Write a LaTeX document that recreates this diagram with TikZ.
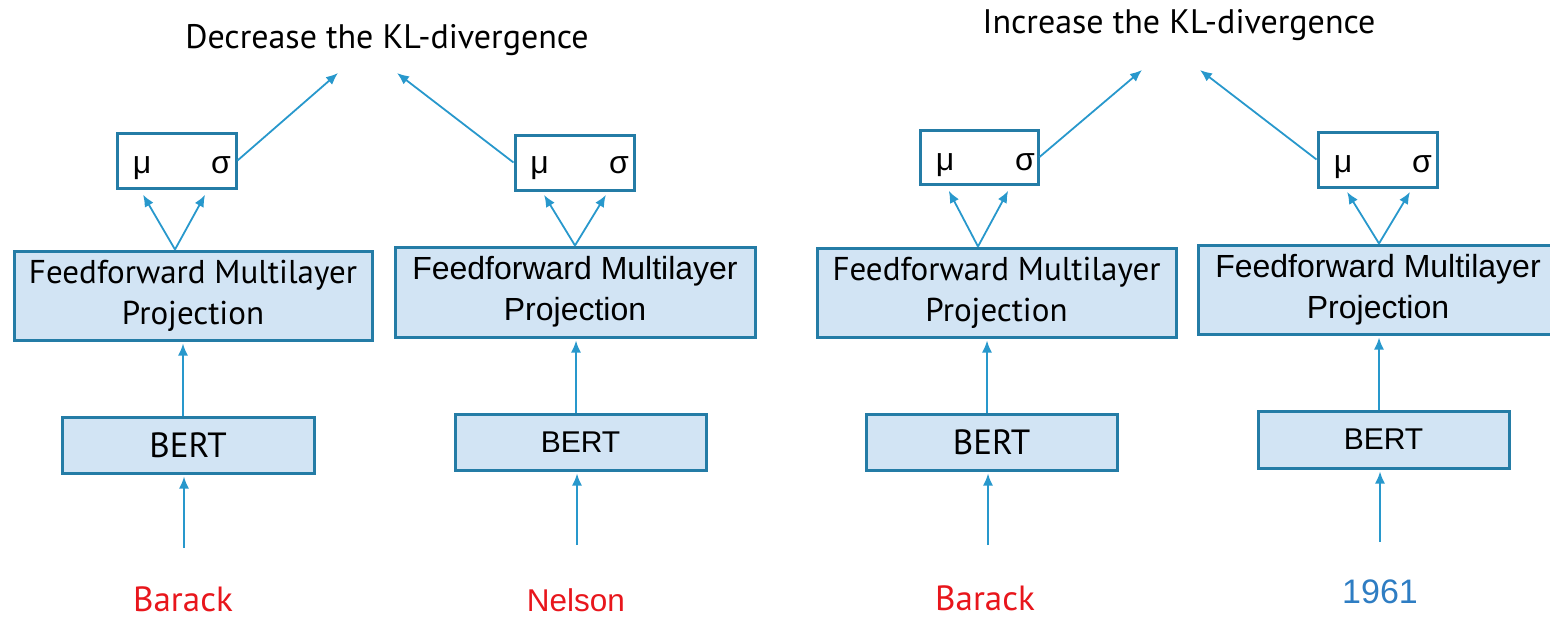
\documentclass[tikz,border=0pt]{standalone}
\usepackage{fontspec}
\setmainfont{PT Sans}
\newfontfamily\arialf{Liberation Sans}
\usetikzlibrary{arrows.meta,calc}
\definecolor{boxline}{RGB}{36,124,166}
\definecolor{boxfill}{RGB}{210,228,244}
\definecolor{arrcol}{RGB}{40,152,204}
\definecolor{wordred}{RGB}{232,22,28}
\definecolor{wordblue}{RGB}{46,125,195}
\tikzset{
  ffbox/.style={draw=boxline, line width=3pt, fill=boxfill, inner sep=0pt, align=center,
    minimum width=#1, minimum height=89pt},
  bertbox/.style={draw=boxline, line width=3pt, fill=boxfill, inner sep=0pt,
    minimum width=251pt, minimum height=56pt, font=\fontsize{35}{40}\selectfont},
  musbox/.style={draw=boxline, line width=3pt, fill=white, inner sep=0pt,
    minimum width=119pt, minimum height=55pt},
  greek/.style={inner sep=0pt, anchor=base, font=\arialf\fontsize{32}{36}\selectfont},
  arr/.style={draw=arrcol, line width=1.8pt, -{Latex[length=12pt,width=10pt]}},
  word/.style={inner sep=0pt, anchor=base, text depth=0pt},
  title/.style={inner sep=0pt, anchor=base, font=\fontsize{34}{40}\selectfont},
}
\begin{document}
\begin{tikzpicture}[x=1pt,y=-1pt]
\useasboundingbox (0,0) rectangle (1550,619);
% titles
\node[title] (t1) at (387,48) {Decrease the KL-divergence};
\node[title] (t2) at (1179,33) {Increase the KL-divergence};
% ---------- panel 1
\node[musbox] (mu1) at (176.5,160.5) {};
\node[greek] (m1) at (142,173) {μ};
\node[greek] (s1) at (221,173) {σ};
\node[ffbox=358pt, font=\fontsize{33}{41}\selectfont] (ff1) at (193,295.5) {Feedforward Multilayer\\Projection};
\node[bertbox, minimum width=252pt] (b1) at (188,445) {BERT};
\node[word, text=wordred, font=\fontsize{35}{40}\selectfont] (w1) at (183,611) {Barack};
% ---------- panel 2
\node[musbox] (mu2) at (574.5,162.5) {};
\node[greek] (m2) at (539.5,173) {μ};
\node[greek] (s2) at (619,173) {σ};
\node[ffbox=360pt, minimum height=90pt, font=\arialf\fontsize{32}{41}\selectfont] (ff2) at (575,292) {Feedforward Multilayer\\Projection};
\node[bertbox, font=\arialf\fontsize{30}{36}\selectfont] (b2) at (580.5,442) {BERT};
\node[word, text=wordred, font=\arialf\fontsize{31.5}{36}\selectfont] (w2) at (576,611) {Nelson};
% ---------- panel 3
\node[musbox, minimum width=118pt, minimum height=54pt] (mu3) at (979,157) {};
\node[greek] (m3) at (945,170) {μ};
\node[greek] (s3) at (1025,170) {σ};
\node[ffbox=359pt, font=\fontsize{33}{41}\selectfont] (ff3) at (996.5,292.5) {Feedforward Multilayer\\Projection};
\node[bertbox] (b3) at (991.5,442) {BERT};
\node[word, text=wordred, font=\fontsize{35}{40}\selectfont] (w3) at (985,610) {Barack};
% ---------- panel 4
\node[musbox] (mu4) at (1377.5,159.5) {};
\node[greek] (m4) at (1343,172) {μ};
\node[greek] (s4) at (1422,172) {σ};
\node[ffbox=360pt, font=\arialf\fontsize{32}{41}\selectfont] (ff4) at (1378,289.5) {Feedforward Multilayer\\Projection};
\node[bertbox, minimum height=57pt, font=\arialf\fontsize{30}{36}\selectfont] (b4) at (1383.5,439.5) {BERT};
\node[word, text=wordblue, font=\arialf\fontsize{34}{38}\selectfont] (w4) at (1380,603) {1961};
% free ends
\coordinate (kl1a) at (338,73);
\coordinate (kl1b) at (397,73);
\coordinate (kl2a) at (1142,70);
\coordinate (kl2b) at (1200,70);
\coordinate (in1) at (184,548);
\coordinate (in2) at (577,545);
\coordinate (in3) at (988,545);
\coordinate (in4) at (1380,542);
% connectors to KL
\draw[arr] (mu1.east) -- (kl1a);
\draw[arr] (mu2.west) -- (kl1b);
\draw[arr] (mu3.east) -- (kl2a);
\draw[arr] (mu4.west) -- (kl2b);
% FF -> mu/sigma
\draw[arr, shorten >=6pt] (175,0 |- ff1.north) -- (140,0 |- mu1.south);
\draw[arr, shorten >=6pt] (175,0 |- ff1.north) -- (208,0 |- mu1.south);
\draw[arr, shorten >=4pt] (575,0 |- ff2.north) -- (542,0 |- mu2.south);
\draw[arr, shorten >=4pt] (575,0 |- ff2.north) -- (608,0 |- mu2.south);
\draw[arr, shorten >=6pt] (978,0 |- ff3.north) -- (946,0 |- mu3.south);
\draw[arr, shorten >=6pt] (978,0 |- ff3.north) -- (1011,0 |- mu3.south);
\draw[arr, shorten >=4pt] (1379,0 |- ff4.north) -- (1345,0 |- mu4.south);
\draw[arr, shorten >=4pt] (1379,0 |- ff4.north) -- (1412,0 |- mu4.south);
% BERT -> FF
\draw[arr, shorten >=2pt] (183,0 |- b1.north) -- (183,0 |- ff1.south);
\draw[arr, shorten >=2pt] (576,0 |- b2.north) -- (576,0 |- ff2.south);
\draw[arr, shorten >=2pt] (987,0 |- b3.north) -- (987,0 |- ff3.south);
\draw[arr, shorten >=2pt] (1379,0 |- b4.north) -- (1379,0 |- ff4.south);
% input -> BERT
\draw[arr, shorten >=2pt] (in1) -- (in1 |- b1.south);
\draw[arr, shorten >=2pt] (in2) -- (in2 |- b2.south);
\draw[arr, shorten >=2pt] (in3) -- (in3 |- b3.south);
\draw[arr, shorten >=2pt] (in4) -- (in4 |- b4.south);
\end{tikzpicture}
\end{document}
